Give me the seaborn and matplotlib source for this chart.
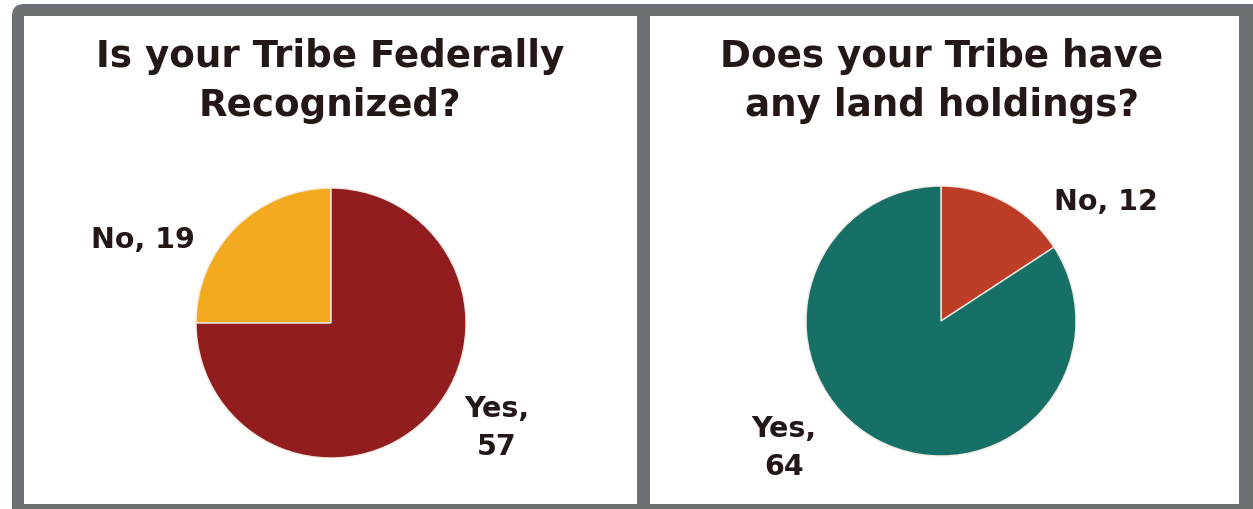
"""Two survey pie charts: federal recognition and land holdings."""

import matplotlib.pyplot as plt
import seaborn as sns
from matplotlib.patches import FancyBboxPatch, Rectangle

# survey answers
fed_labels = ["No", "Yes"]
fed_counts = [19, 57]
land_labels = ["No", "Yes"]
land_counts = [12, 64]

fed_title = "Is your Tribe Federally\nRecognized?"
land_title = "Does your Tribe have\nany land holdings?"

fed_colors = ["#f4aa1f", "#921d1f"]
land_colors = ["#bd3d26", "#177067"]

TEXT = "#231815"
FRAME = "#6c7173"
W, H = 1253, 509

sns.set_theme(style="white")
plt.rcParams["font.family"] = ["DejaVu Sans"]

fig = plt.figure(figsize=(W / 100, H / 100), dpi=100)
ax = fig.add_axes([0, 0, 1, 1])


def img_y(y):
    # convert from top-down pixel rows to axes coordinates
    return H - y


# frame and panels
ax.add_patch(FancyBboxPatch((12, img_y(540)), W - 12 + 20, 536,
                            boxstyle="round,pad=0,rounding_size=12",
                            facecolor=FRAME, edgecolor="none", zorder=0))
ax.add_patch(Rectangle((24, img_y(504)), 637 - 24, 504 - 16,
                       facecolor="white", edgecolor="none", zorder=1))
ax.add_patch(Rectangle((650, img_y(504)), 1239 - 650, 504 - 16,
                       facecolor="white", edgecolor="none", zorder=1))

wedge_style = {"edgecolor": "#f4ece4", "linewidth": 1.0}

ax.pie(fed_counts, colors=fed_colors, startangle=90, counterclock=True,
       center=(331, img_y(323)), radius=135, wedgeprops=wedge_style, frame=True)
ax.pie(land_counts, colors=land_colors, startangle=90, counterclock=False,
       center=(941, img_y(321)), radius=135, wedgeprops=wedge_style, frame=True)

title_kw = dict(ha="center", va="center", fontsize=26.8, fontweight="bold",
                color=TEXT, linespacing=1.38, zorder=5)
ax.text(330, img_y(81), fed_title, **title_kw)
ax.text(942, img_y(81), land_title, **title_kw)

label_kw = dict(ha="center", va="center", fontsize=20.5, fontweight="bold",
                color=TEXT, linespacing=1.48, zorder=5)
ax.text(143, img_y(240), f"{fed_labels[0]}, {fed_counts[0]}", **label_kw)
ax.text(497, img_y(428), f"{fed_labels[1]},\n{fed_counts[1]}", **label_kw)
ax.text(1106, img_y(202), f"{land_labels[0]}, {land_counts[0]}", **label_kw)
ax.text(784, img_y(448), f"{land_labels[1]},\n{land_counts[1]}", **label_kw)

ax.set_xlim(0, W)
ax.set_ylim(0, H)
ax.set_aspect("auto")
ax.axis("off")

fig.savefig("out.png", dpi=100, facecolor="white")
plt.close(fig)
